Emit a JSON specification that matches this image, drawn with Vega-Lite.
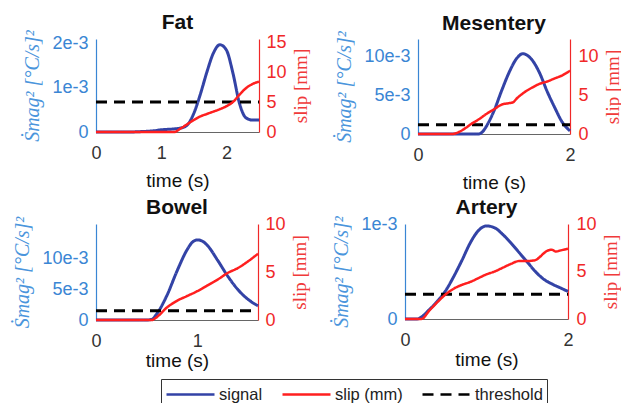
{
  "$schema": "https://vega.github.io/schema/vega-lite/v6.json",
  "padding": {"left": 12, "top": 11, "right": 0, "bottom": 0},
  "background": "white",
  "data": {"values": [
    {"p":"Fat","s":"signal","t":0,"v":0},{"p":"Fat","s":"signal","t":0.5,"v":0},{"p":"Fat","s":"signal","t":0.7,"v":0.00001},{"p":"Fat","s":"signal","t":0.9,"v":0.00003},{"p":"Fat","s":"signal","t":1.0,"v":0.00005},{"p":"Fat","s":"signal","t":1.1,"v":0.00006},{"p":"Fat","s":"signal","t":1.2,"v":0.00007},{"p":"Fat","s":"signal","t":1.3,"v":0.00009},{"p":"Fat","s":"signal","t":1.4,"v":0.00016},{"p":"Fat","s":"signal","t":1.5,"v":0.00042},{"p":"Fat","s":"signal","t":1.6,"v":0.00085},{"p":"Fat","s":"signal","t":1.7,"v":0.00135},{"p":"Fat","s":"signal","t":1.8,"v":0.00178},{"p":"Fat","s":"signal","t":1.9,"v":0.00197},{"p":"Fat","s":"signal","t":2.0,"v":0.00185},{"p":"Fat","s":"signal","t":2.1,"v":0.00133},{"p":"Fat","s":"signal","t":2.2,"v":0.00065},{"p":"Fat","s":"signal","t":2.3,"v":0.00032},{"p":"Fat","s":"signal","t":2.4,"v":0.00027},{"p":"Fat","s":"signal","t":2.5,"v":0.00027},
    {"p":"Fat","s":"slip (mm)","t":0,"v":0},{"p":"Fat","s":"slip (mm)","t":1.2,"v":0},{"p":"Fat","s":"slip (mm)","t":1.3,"v":0.6},{"p":"Fat","s":"slip (mm)","t":1.4,"v":1.3},{"p":"Fat","s":"slip (mm)","t":1.5,"v":2.0},{"p":"Fat","s":"slip (mm)","t":1.6,"v":2.6},{"p":"Fat","s":"slip (mm)","t":1.7,"v":3.0},{"p":"Fat","s":"slip (mm)","t":1.8,"v":3.4},{"p":"Fat","s":"slip (mm)","t":1.9,"v":3.8},{"p":"Fat","s":"slip (mm)","t":2.0,"v":4.3},{"p":"Fat","s":"slip (mm)","t":2.1,"v":5.0},{"p":"Fat","s":"slip (mm)","t":2.2,"v":6.2},{"p":"Fat","s":"slip (mm)","t":2.3,"v":7.3},{"p":"Fat","s":"slip (mm)","t":2.4,"v":8.0},{"p":"Fat","s":"slip (mm)","t":2.5,"v":8.4},
    {"p":"Fat","s":"threshold","t":0,"v":0.00068},{"p":"Fat","s":"threshold","t":2.5,"v":0.00068},
    {"p":"Mesentery","s":"signal","t":0,"v":0},{"p":"Mesentery","s":"signal","t":0.8,"v":0},{"p":"Mesentery","s":"signal","t":0.85,"v":0.0003},{"p":"Mesentery","s":"signal","t":0.9,"v":0.001},{"p":"Mesentery","s":"signal","t":1.0,"v":0.003},{"p":"Mesentery","s":"signal","t":1.1,"v":0.0056},{"p":"Mesentery","s":"signal","t":1.2,"v":0.008},{"p":"Mesentery","s":"signal","t":1.3,"v":0.0098},{"p":"Mesentery","s":"signal","t":1.38,"v":0.0104},{"p":"Mesentery","s":"signal","t":1.45,"v":0.0101},{"p":"Mesentery","s":"signal","t":1.5,"v":0.0096},{"p":"Mesentery","s":"signal","t":1.6,"v":0.0079},{"p":"Mesentery","s":"signal","t":1.7,"v":0.0055},{"p":"Mesentery","s":"signal","t":1.8,"v":0.0034},{"p":"Mesentery","s":"signal","t":1.9,"v":0.0015},{"p":"Mesentery","s":"signal","t":2.0,"v":0.0004},
    {"p":"Mesentery","s":"slip (mm)","t":0,"v":0},{"p":"Mesentery","s":"slip (mm)","t":0.45,"v":0},{"p":"Mesentery","s":"slip (mm)","t":0.5,"v":0.1},{"p":"Mesentery","s":"slip (mm)","t":0.6,"v":0.6},{"p":"Mesentery","s":"slip (mm)","t":0.7,"v":1.3},{"p":"Mesentery","s":"slip (mm)","t":0.8,"v":1.9},{"p":"Mesentery","s":"slip (mm)","t":0.9,"v":2.6},{"p":"Mesentery","s":"slip (mm)","t":1.0,"v":3.2},{"p":"Mesentery","s":"slip (mm)","t":1.1,"v":3.8},{"p":"Mesentery","s":"slip (mm)","t":1.2,"v":4.0},{"p":"Mesentery","s":"slip (mm)","t":1.25,"v":4.1},{"p":"Mesentery","s":"slip (mm)","t":1.3,"v":4.6},{"p":"Mesentery","s":"slip (mm)","t":1.4,"v":5.4},{"p":"Mesentery","s":"slip (mm)","t":1.5,"v":6.0},{"p":"Mesentery","s":"slip (mm)","t":1.6,"v":6.5},{"p":"Mesentery","s":"slip (mm)","t":1.7,"v":6.8},{"p":"Mesentery","s":"slip (mm)","t":1.8,"v":7.2},{"p":"Mesentery","s":"slip (mm)","t":1.9,"v":7.6},{"p":"Mesentery","s":"slip (mm)","t":2.0,"v":8.2},
    {"p":"Mesentery","s":"threshold","t":0,"v":0.0012},{"p":"Mesentery","s":"threshold","t":2.0,"v":0.0012},
    {"p":"Bowel","s":"signal","t":0,"v":0},{"p":"Bowel","s":"signal","t":0.5,"v":0},{"p":"Bowel","s":"signal","t":0.55,"v":0.0001},{"p":"Bowel","s":"signal","t":0.6,"v":0.001},{"p":"Bowel","s":"signal","t":0.7,"v":0.004},{"p":"Bowel","s":"signal","t":0.8,"v":0.008},{"p":"Bowel","s":"signal","t":0.9,"v":0.0115},{"p":"Bowel","s":"signal","t":0.95,"v":0.0127},{"p":"Bowel","s":"signal","t":1.0,"v":0.0131},{"p":"Bowel","s":"signal","t":1.05,"v":0.0129},{"p":"Bowel","s":"signal","t":1.1,"v":0.0122},{"p":"Bowel","s":"signal","t":1.2,"v":0.0098},{"p":"Bowel","s":"signal","t":1.3,"v":0.0072},{"p":"Bowel","s":"signal","t":1.4,"v":0.005},{"p":"Bowel","s":"signal","t":1.5,"v":0.0034},{"p":"Bowel","s":"signal","t":1.6,"v":0.0023},
    {"p":"Bowel","s":"slip (mm)","t":0,"v":0},{"p":"Bowel","s":"slip (mm)","t":0.55,"v":0},{"p":"Bowel","s":"slip (mm)","t":0.6,"v":0.3},{"p":"Bowel","s":"slip (mm)","t":0.7,"v":1.3},{"p":"Bowel","s":"slip (mm)","t":0.8,"v":2.0},{"p":"Bowel","s":"slip (mm)","t":0.9,"v":2.5},{"p":"Bowel","s":"slip (mm)","t":1.0,"v":3.0},{"p":"Bowel","s":"slip (mm)","t":1.1,"v":3.6},{"p":"Bowel","s":"slip (mm)","t":1.2,"v":4.2},{"p":"Bowel","s":"slip (mm)","t":1.3,"v":4.9},{"p":"Bowel","s":"slip (mm)","t":1.4,"v":5.4},{"p":"Bowel","s":"slip (mm)","t":1.5,"v":6.1},{"p":"Bowel","s":"slip (mm)","t":1.6,"v":6.9},
    {"p":"Bowel","s":"threshold","t":0,"v":0.0015},{"p":"Bowel","s":"threshold","t":1.6,"v":0.0015},
    {"p":"Artery","s":"signal","t":0,"v":0},{"p":"Artery","s":"signal","t":0.15,"v":0},{"p":"Artery","s":"signal","t":0.2,"v":0.00002},{"p":"Artery","s":"signal","t":0.3,"v":0.0001},{"p":"Artery","s":"signal","t":0.4,"v":0.00019},{"p":"Artery","s":"signal","t":0.5,"v":0.0003},{"p":"Artery","s":"signal","t":0.6,"v":0.00045},{"p":"Artery","s":"signal","t":0.7,"v":0.00062},{"p":"Artery","s":"signal","t":0.8,"v":0.0008},{"p":"Artery","s":"signal","t":0.9,"v":0.00093},{"p":"Artery","s":"signal","t":1.0,"v":0.00098},{"p":"Artery","s":"signal","t":1.1,"v":0.00096},{"p":"Artery","s":"signal","t":1.2,"v":0.00089},{"p":"Artery","s":"signal","t":1.3,"v":0.0008},{"p":"Artery","s":"signal","t":1.4,"v":0.0007},{"p":"Artery","s":"signal","t":1.5,"v":0.0006},{"p":"Artery","s":"signal","t":1.6,"v":0.0005},{"p":"Artery","s":"signal","t":1.7,"v":0.00042},{"p":"Artery","s":"signal","t":1.8,"v":0.00037},{"p":"Artery","s":"signal","t":1.9,"v":0.00033},{"p":"Artery","s":"signal","t":2.0,"v":0.00029},
    {"p":"Artery","s":"slip (mm)","t":0,"v":0},{"p":"Artery","s":"slip (mm)","t":0.2,"v":0},{"p":"Artery","s":"slip (mm)","t":0.3,"v":0.9},{"p":"Artery","s":"slip (mm)","t":0.4,"v":1.8},{"p":"Artery","s":"slip (mm)","t":0.5,"v":2.6},{"p":"Artery","s":"slip (mm)","t":0.6,"v":3.2},{"p":"Artery","s":"slip (mm)","t":0.7,"v":3.6},{"p":"Artery","s":"slip (mm)","t":0.8,"v":3.9},{"p":"Artery","s":"slip (mm)","t":0.9,"v":4.3},{"p":"Artery","s":"slip (mm)","t":1.0,"v":4.7},{"p":"Artery","s":"slip (mm)","t":1.1,"v":5.0},{"p":"Artery","s":"slip (mm)","t":1.2,"v":5.4},{"p":"Artery","s":"slip (mm)","t":1.3,"v":5.8},{"p":"Artery","s":"slip (mm)","t":1.4,"v":6.1},{"p":"Artery","s":"slip (mm)","t":1.5,"v":6.1},{"p":"Artery","s":"slip (mm)","t":1.6,"v":6.2},{"p":"Artery","s":"slip (mm)","t":1.65,"v":6.5},{"p":"Artery","s":"slip (mm)","t":1.7,"v":6.9},{"p":"Artery","s":"slip (mm)","t":1.75,"v":7.2},{"p":"Artery","s":"slip (mm)","t":1.8,"v":7.3},{"p":"Artery","s":"slip (mm)","t":1.85,"v":7.1},{"p":"Artery","s":"slip (mm)","t":1.9,"v":7.2},{"p":"Artery","s":"slip (mm)","t":2.0,"v":7.4},
    {"p":"Artery","s":"threshold","t":0,"v":0.00026},{"p":"Artery","s":"threshold","t":2.0,"v":0.00026}
  ]},
  "vconcat": [
    {"hconcat": [
      {"width": 163, "height": 93, "title": {"text": "Fat", "offset": -3},
       "transform": [{"filter": "datum.p == 'Fat'"}],
       "encoding": {"x": {"field": "t", "type": "quantitative", "scale": {"domain": [0, 2.5], "nice": false}, "axis": {"values": [0, 1, 2], "format": "d", "title": "time (s)", "titlePadding": 9}}},
       "layer": [
         {"transform": [{"filter": "datum.s != 'slip (mm)'"}],
          "mark": {"type": "line", "interpolate": "monotone", "strokeWidth": 3},
          "encoding": {
            "y": {"field": "v", "type": "quantitative", "scale": {"domain": [0, 0.0021], "nice": false}, "axis": {"orient": "left", "values": [0, 0.001, 0.002], "labelExpr": "datum.value == 0 ? '0' : round(datum.value*1000) + 'e-3'", "title": "Ṡmag² [°C/s]²", "titleFont": "Liberation Serif", "titleFontStyle": "italic", "titleFontSize": 20, "titlePadding": 9, "labelPadding": 8, "titleColor": "#4a95dc", "labelColor": "#3a86d4", "domainColor": "#3a86d4"}},
            "color": {"field": "s", "type": "nominal", "scale": {"domain": ["signal", "slip (mm)", "threshold"], "range": ["#3343a6", "#ff1f1f", "#000000"]}},
            "strokeDash": {"field": "s", "type": "nominal", "scale": {"domain": ["signal", "slip (mm)", "threshold"], "range": [[1, 0], [1, 0], [11, 7]]}}
          }},
         {"transform": [{"filter": "datum.s == 'slip (mm)'"}],
          "mark": {"type": "line", "interpolate": "monotone", "strokeWidth": 2.5},
          "encoding": {
            "y": {"field": "v", "type": "quantitative", "scale": {"domain": [0, 15.5], "nice": false}, "axis": {"orient": "right", "values": [0, 5, 10, 15], "title": "slip [mm]", "titleAngle": 270, "titleBaseline": "top", "titlePadding": 5, "labelPadding": 7, "titleFont": "Liberation Serif", "titleFontSize": 19, "titleColor": "#f03a3a", "labelColor": "#f02828", "domainColor": "#f02828"}},
            "color": {"field": "s", "type": "nominal"},
            "strokeDash": {"field": "s", "type": "nominal"}
          }}
       ],
       "resolve": {"scale": {"y": "independent"}}
      },
      {"width": 152, "height": 95, "title": {"text": "Mesentery", "offset": -3},
       "transform": [{"filter": "datum.p == 'Mesentery'"}],
       "encoding": {"x": {"field": "t", "type": "quantitative", "scale": {"domain": [0, 2], "nice": false}, "axis": {"values": [0, 1, 2], "format": "d", "title": "time (s)", "titlePadding": 9}}},
       "layer": [
         {"transform": [{"filter": "datum.s != 'slip (mm)'"}],
          "mark": {"type": "line", "interpolate": "monotone", "strokeWidth": 3},
          "encoding": {
            "y": {"field": "v", "type": "quantitative", "scale": {"domain": [0, 0.0123], "nice": false}, "axis": {"orient": "left", "values": [0, 0.005, 0.01], "labelExpr": "datum.value == 0 ? '0' : round(datum.value*1000) + 'e-3'", "title": "Ṡmag² [°C/s]²", "titleFont": "Liberation Serif", "titleFontStyle": "italic", "titleFontSize": 20, "titlePadding": 9, "labelPadding": 8, "titleColor": "#4a95dc", "labelColor": "#3a86d4", "domainColor": "#3a86d4"}},
            "color": {"field": "s", "type": "nominal"},
            "strokeDash": {"field": "s", "type": "nominal"}
          }},
         {"transform": [{"filter": "datum.s == 'slip (mm)'"}],
          "mark": {"type": "line", "interpolate": "monotone", "strokeWidth": 2.5},
          "encoding": {
            "y": {"field": "v", "type": "quantitative", "scale": {"domain": [0, 12.3], "nice": false}, "axis": {"orient": "right", "values": [0, 5, 10], "title": "slip [mm]", "titleAngle": 270, "titleBaseline": "top", "titlePadding": 5, "labelPadding": 8, "titleFont": "Liberation Serif", "titleFontSize": 19, "titleColor": "#f03a3a", "labelColor": "#f02828", "domainColor": "#f02828"}},
            "color": {"field": "s", "type": "nominal"},
            "strokeDash": {"field": "s", "type": "nominal"}
          }}
       ],
       "resolve": {"scale": {"y": "independent"}}
      }
    ], "spacing": 23},
    {"hconcat": [
      {"width": 162, "height": 96, "title": {"text": "Bowel", "offset": -3},
       "transform": [{"filter": "datum.p == 'Bowel'"}],
       "encoding": {"x": {"field": "t", "type": "quantitative", "scale": {"domain": [0, 1.6], "nice": false}, "axis": {"values": [0, 1], "format": "d", "title": "time (s)", "titlePadding": 1}}},
       "layer": [
         {"transform": [{"filter": "datum.s != 'slip (mm)'"}],
          "mark": {"type": "line", "interpolate": "monotone", "strokeWidth": 3},
          "encoding": {
            "y": {"field": "v", "type": "quantitative", "scale": {"domain": [0, 0.0157], "nice": false}, "axis": {"orient": "left", "values": [0, 0.005, 0.01], "labelExpr": "datum.value == 0 ? '0' : round(datum.value*1000) + 'e-3'", "title": "Ṡmag² [°C/s]²", "titleFont": "Liberation Serif", "titleFontStyle": "italic", "titleFontSize": 20, "titlePadding": 9, "labelPadding": 8, "titleColor": "#4a95dc", "labelColor": "#3a86d4", "domainColor": "#3a86d4"}},
            "color": {"field": "s", "type": "nominal"},
            "strokeDash": {"field": "s", "type": "nominal"}
          }},
         {"transform": [{"filter": "datum.s == 'slip (mm)'"}],
          "mark": {"type": "line", "interpolate": "monotone", "strokeWidth": 2.5},
          "encoding": {
            "y": {"field": "v", "type": "quantitative", "scale": {"domain": [0, 10], "nice": false}, "axis": {"orient": "right", "values": [0, 5, 10], "title": "slip [mm]", "titleAngle": 270, "titleBaseline": "top", "titlePadding": 5, "labelPadding": 7, "titleFont": "Liberation Serif", "titleFontSize": 19, "titleColor": "#f03a3a", "labelColor": "#f02828", "domainColor": "#f02828"}},
            "color": {"field": "s", "type": "nominal"},
            "strokeDash": {"field": "s", "type": "nominal"}
          }}
       ],
       "resolve": {"scale": {"y": "independent"}}
      },
      {"width": 163, "height": 95, "title": {"text": "Artery", "offset": -3},
       "transform": [{"filter": "datum.p == 'Artery'"}],
       "encoding": {"x": {"field": "t", "type": "quantitative", "scale": {"domain": [0, 2], "nice": false}, "axis": {"values": [0, 1, 2], "format": "d", "title": "time (s)", "titlePadding": 1}}},
       "layer": [
         {"transform": [{"filter": "datum.s != 'slip (mm)'"}],
          "mark": {"type": "line", "interpolate": "monotone", "strokeWidth": 3},
          "encoding": {
            "y": {"field": "v", "type": "quantitative", "scale": {"domain": [0, 0.001], "nice": false}, "axis": {"orient": "left", "values": [0, 0.001], "labelExpr": "datum.value == 0 ? '0' : round(datum.value*1000) + 'e-3'", "title": "Ṡmag² [°C/s]²", "titleFont": "Liberation Serif", "titleFontStyle": "italic", "titleFontSize": 20, "titlePadding": 9, "labelPadding": 8, "titleColor": "#4a95dc", "labelColor": "#3a86d4", "domainColor": "#3a86d4"}},
            "color": {"field": "s", "type": "nominal"},
            "strokeDash": {"field": "s", "type": "nominal"}
          }},
         {"transform": [{"filter": "datum.s == 'slip (mm)'"}],
          "mark": {"type": "line", "interpolate": "monotone", "strokeWidth": 2.5},
          "encoding": {
            "y": {"field": "v", "type": "quantitative", "scale": {"domain": [0, 10], "nice": false}, "axis": {"orient": "right", "values": [0, 5, 10], "title": "slip [mm]", "titleAngle": 270, "titleBaseline": "top", "titlePadding": 5, "labelPadding": 8, "titleFont": "Liberation Serif", "titleFontSize": 19, "titleColor": "#f03a3a", "labelColor": "#f02828", "domainColor": "#f02828"}},
            "color": {"field": "s", "type": "nominal"},
            "strokeDash": {"field": "s", "type": "nominal"}
          }}
       ],
       "resolve": {"scale": {"y": "independent"}}
      }
    ], "spacing": 21}
  ],
  "spacing": 5,
  "config": {
    "font": "Liberation Sans",
    "view": {"stroke": null},
    "axis": {"grid": false, "ticks": false, "labelFontSize": 18, "titleFontSize": 19, "titleFontWeight": "normal", "labelPadding": 5, "domainWidth": 1.2, "titlePadding": 6},
    "axisX": {"labelColor": "#333333", "titleColor": "#111111", "domainColor": "#666666", "labelPadding": 12, "labelFlush": false},
    "title": {"fontSize": 21, "fontWeight": "bold", "color": "#111111", "font": "Liberation Sans"},
    "legend": {"orient": "none", "legendX": 65, "legendY": 340, "direction": "horizontal", "title": null, "strokeColor": "#333333", "padding": 4, "symbolType": "M-2.4,0H2.4", "symbolSize": 400, "symbolOffset": 14, "symbolStrokeWidth": 2.5, "labelFontSize": 16.5, "labelColor": "#222222", "columnPadding": 14, "labelOffset": 17}
  }
}
